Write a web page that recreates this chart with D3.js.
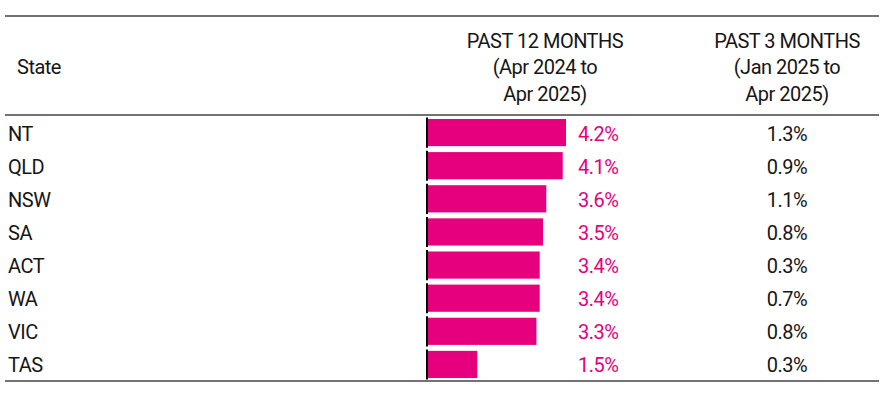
<!DOCTYPE html>
<html>
<head>
<meta charset="utf-8">
<script src="https://cdn.jsdelivr.net/npm/d3@7"></script>
<style>
  body { margin: 0; background: #fff; }
  text { font-family: Roboto, "Open Sans", sans-serif; font-size: 20px; letter-spacing: -0.5px; }
</style>
</head>
<body>
<svg id="table" width="889" height="394"></svg>
<script>
const states = ["NT", "QLD", "NSW", "SA", "ACT", "WA", "VIC", "TAS"];
const past12 = [4.2, 4.1, 3.6, 3.5, 3.4, 3.4, 3.3, 1.5];
const past3 = [1.3, 0.9, 1.1, 0.8, 0.3, 0.7, 0.8, 0.3];
const header12 = ["PAST 12 MONTHS", "(Apr 2024 to", "Apr 2025)"];
const header3 = ["PAST 3 MONTHS", "(Jan 2025 to", "Apr 2025)"];

const svg = d3.select("svg#table");
const pink = "#e6007e";
const lineColor = "#444";
const textColor = "#161616";

const rows = states.map((s, i) => ({ state: s, v12: past12[i], v3: past3[i] }));

// table frame
const frameLeft = 5, frameRight = 879;
const frameTop = 16, headBottom = 115, frameBottom = 381;

const yScale = d3.scaleBand().domain(states).range([headBottom + 1, frameBottom]).paddingInner(0.18).paddingOuter(0.09);
const xScale = d3.scaleLinear().domain([0, 4.2]).range([428, 566]);
const rowMid = d => yScale(d.state) + yScale.bandwidth() / 2;

[frameTop, headBottom, frameBottom].forEach(y => {
  svg.append("line")
    .attr("x1", frameLeft).attr("x2", frameRight)
    .attr("y1", y).attr("y2", y)
    .attr("stroke", lineColor).attr("stroke-width", 1.5);
});

// headers
svg.append("text").text("State")
  .attr("x", 17).attr("y", 74)
  .attr("fill", textColor);

function header(lines, cx) {
  svg.append("g").selectAll("text").data(lines).enter().append("text")
    .text(d => d)
    .attr("x", cx)
    .attr("y", (d, i) => 47.6 + i * 26.7)
    .attr("text-anchor", "middle")
    .attr("fill", textColor);
}
header(header12, 545);
header(header3, 787);

const rowG = svg.append("g").selectAll("g").data(rows).enter().append("g");

// state labels
rowG.append("text").text(d => d.state)
  .attr("x", 8)
  .attr("y", d => rowMid(d) + 8)
  .attr("fill", textColor);

// bars
rowG.append("rect")
  .attr("x", xScale(0))
  .attr("y", d => yScale(d.state))
  .attr("width", d => xScale(d.v12) - xScale(0))
  .attr("height", yScale.bandwidth())
  .attr("fill", pink);

// baseline segments
const step = yScale.step();
rowG.append("line")
  .attr("x1", xScale(0) - 1).attr("x2", xScale(0) - 1)
  .attr("y1", d => rowMid(d) - step / 2 + 1.5)
  .attr("y2", d => rowMid(d) + step / 2 - 1.5)
  .attr("stroke", "#000").attr("stroke-width", 2);

// values
rowG.append("text").text(d => d.v12.toFixed(1) + "%")
  .attr("x", 578)
  .attr("y", d => rowMid(d) + 8)
  .attr("fill", pink);

rowG.append("text").text(d => d.v3.toFixed(1) + "%")
  .attr("x", 787)
  .attr("y", d => rowMid(d) + 8)
  .attr("text-anchor", "middle")
  .attr("fill", textColor);
</script>
</body>
</html>
